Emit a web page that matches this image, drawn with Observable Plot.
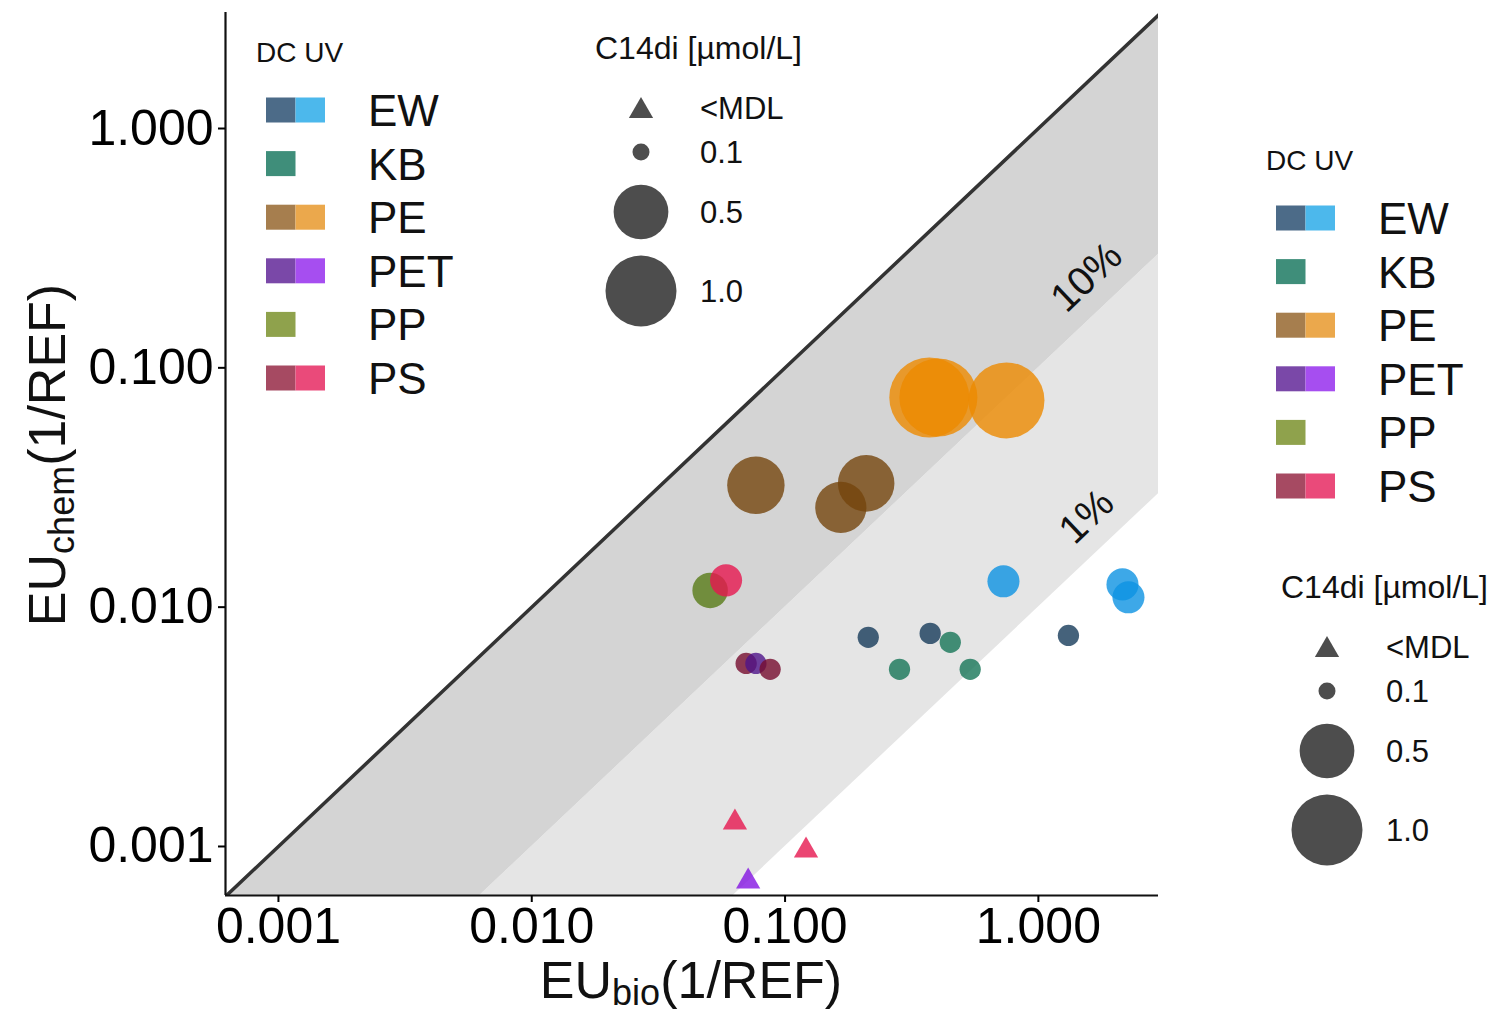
<!DOCTYPE html>
<html><head><meta charset="utf-8">
<script src="https://cdn.jsdelivr.net/npm/d3@7"></script>
<script src="https://cdn.jsdelivr.net/npm/@observablehq/plot@0.6"></script>
<style>
html,body{margin:0;padding:0;background:#fff;}
#chart{position:relative;width:1491px;height:1012px;}
svg{font-family:Arial,"Liberation Sans",sans-serif;}
</style></head><body><div id="chart"></div>
<script>
// ---- data ----
const polymer   = ["PE","PE","PE","PE","PE","PE","PP","PS","PS","PET","PS","EW","EW","EW","KB","KB","KB","EW","EW","EW","PS","PS","PET"];
const treatment = ["DC","DC","DC","UV","UV","UV","DC","UV","DC","DC","DC","DC","DC","DC","DC","DC","DC","UV","UV","UV","UV","UV","UV"];
const euBio  = [0.0767,0.166,0.209,0.371,0.403,0.748,0.0506,0.0585,0.0702,0.0767,0.0873,0.213,0.374,1.314,0.283,0.449,0.538,0.728,2.148,2.268,0.0634,0.121,0.0715];
const euChem = [0.0323,0.0261,0.0329,0.0752,0.0752,0.0731,0.01175,0.01294,0.00582,0.00582,0.00550,0.00748,0.00777,0.00762,0.00550,0.00713,0.00550,0.01282,0.01245,0.01099,0.00126,0.000962,0.000714];
const c14di  = [0.56,0.43,0.54,1.47,1.35,1.24,0.22,0.19,0.12,0.12,0.12,0.12,0.12,0.12,0.12,0.12,0.12,0.19,0.19,0.19,null,null,null]; // null = <MDL

const xTicks = [0.001, 0.01, 0.1, 1];
const yTicks = [0.001, 0.01, 0.1, 1];
const xDomain = [0.000618, 2.98];
const yDomain = [0.000624, 3.053];

// colour keys
const colorKeys   = ["EW DC","EW UV","KB DC","PE DC","PE UV","PET DC","PET UV","PP DC","PS DC","PS UV"];
const pointColors = ["#173b5a","#0d92e2","#167557","#74450c","#ec8a00","#4f1489","#8314e2","#587a16","#760c2e","#e6174f"];

// legend
const legendGroups = ["EW","KB","PE","PET","PP","PS"];
const legendDC = ["#4c6b88","#3f8e7a","#a67e4e","#7a48a8","#8fa24c","#a64a62"];
const legendUV = ["#4cb8ec",null,"#eba84c","#a64ef0",null,"#ea4a7a"];
const sizeLabels = ["<MDL","0.1","0.5","1.0"];
const sizeValues = [null,0.1,0.5,1.0];

// band labels
const bandLabels = [{x:1.55, ratio:0.1, label:"10%"},{x:1.55, ratio:0.01, label:"1%"}];

const data = polymer.map((p,i)=>({key:`${p} ${treatment[i]}`, x:euBio[i], y:euChem[i], c:c14di[i]}));
const circles = data.filter(d=>d.c!=null);
const triangles = data.filter(d=>d.c==null);
const bandX = xDomain;

const plot = Plot.plot({
  width:1491, height:1012,
  marginLeft:225, marginRight:333, marginTop:12, marginBottom:117,
  style:{fontFamily:'Arial,"Liberation Sans",sans-serif', background:"#fff", overflow:"visible"},
  x:{type:"log", domain:xDomain},
  y:{type:"log", domain:yDomain},
  r:{type:"log", domain:[0.1,1], range:[8.5,35.5]},
  color:{domain:colorKeys, range:pointColors},
  marks:[
    Plot.areaY(bandX,{x:d=>d, y1:d=>d*0.01, y2:d=>d*0.1, fill:"#e5e5e5", clip:true}),
    Plot.areaY(bandX,{x:d=>d, y1:d=>d*0.1, y2:d=>d, fill:"#d4d4d4", clip:true}),
    Plot.line(bandX,{x:d=>d, y:d=>d, stroke:"#333", strokeWidth:3.5, clip:true}),
    Plot.text(bandLabels,{x:"x", y:d=>d.x*d.ratio, text:"label", rotate:-43.4, dy:-45, fontSize:40, fill:"#111"}),
    Plot.dot(circles,{x:"x", y:"y", r:"c", fill:"key", fillOpacity:0.8, sort:null}),
    Plot.dot(triangles,{x:"x", y:"y", r:9, symbol:"triangle", fill:"key", fillOpacity:0.8}),
    Plot.ruleX([xDomain[0]],{stroke:"#111", strokeWidth:2.2}),
    Plot.ruleY([yDomain[0]],{stroke:"#111", strokeWidth:2.2}),
    Plot.axisX({ticks:xTicks, tickFormat:d3.format(".3f"), fontSize:50, tickSize:7, tickPadding:5, strokeWidth:2, label:null}),
    Plot.axisY({ticks:yTicks, tickFormat:d3.format(".3f"), fontSize:50, tickSize:7, tickPadding:5, strokeWidth:2, label:null})
  ]
});
document.getElementById("chart").appendChild(plot);

const svg = d3.select(plot);
const rScale = plot.scale("r");

// axis titles
const xt = svg.append("text").attr("x",691).attr("y",998).attr("text-anchor","middle").attr("fill","#111");
xt.append("tspan").attr("font-size",52).text("EU");
xt.append("tspan").attr("font-size",36).attr("dy",7).text("bio");
xt.append("tspan").attr("font-size",52).attr("dy",-7).text("(1/REF)");

const yt = svg.append("text").attr("transform","translate(65,455) rotate(-90)").attr("text-anchor","middle").attr("fill","#111");
yt.append("tspan").attr("font-size",52).text("EU");
yt.append("tspan").attr("font-size",36).attr("dy",9).text("chem");
yt.append("tspan").attr("font-size",52).attr("dy",-9).text("(1/REF)");

// colour legend
function colorLegend(ox, oy){
  const g = svg.append("g").attr("transform",`translate(${ox},${oy})`).attr("text-anchor","start");
  g.append("text").attr("x",-10).attr("y",-48).attr("font-size",28).attr("fill","#111").text("DC UV");
  legendGroups.forEach((grp,i)=>{
    const cy = i*53.6;
    g.append("rect").attr("x",0).attr("y",cy-12.5).attr("width",29.5).attr("height",25).attr("fill",legendDC[i]);
    if(legendUV[i]) g.append("rect").attr("x",29.5).attr("y",cy-12.5).attr("width",29.5).attr("height",25).attr("fill",legendUV[i]);
    g.append("text").attr("x",102).attr("y",cy+16).attr("font-size",44).attr("fill","#111").text(grp);
  });
}
function sizeLegend(ox, oy){
  const g = svg.append("g").attr("transform",`translate(${ox},${oy})`).attr("text-anchor","start");
  g.append("text").attr("x",-46).attr("y",-49).attr("font-size",32).attr("fill","#111").text("C14di [µmol/L]");
  const offs = [0,44,104,183];
  sizeValues.forEach((v,i)=>{
    const cy = offs[i];
    if(v==null){
      g.append("path").attr("d", d3.symbol(d3.symbolTriangle, Math.PI*81)()).attr("transform",`translate(0,${cy+3})`).attr("fill","#4d4d4d");
    } else {
      g.append("circle").attr("cx",0).attr("cy",cy).attr("r",rScale.apply(v)).attr("fill","#4d4d4d");
    }
    g.append("text").attr("x",59).attr("y",cy+11).attr("font-size",31).attr("fill","#111").text(sizeLabels[i]);
  });
}
colorLegend(266,110);
colorLegend(1276,218);
sizeLegend(641,108);
sizeLegend(1327,647);
</script></body></html>
